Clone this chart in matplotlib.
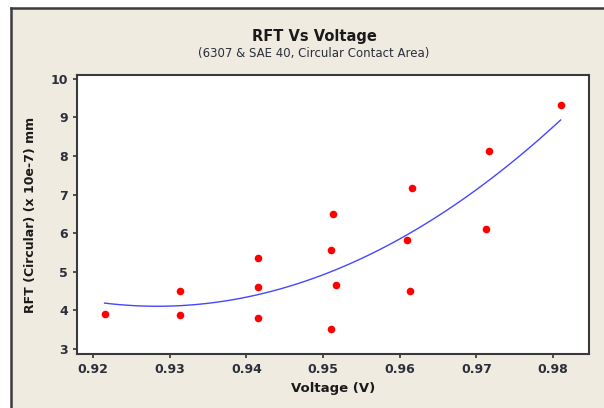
import matplotlib
matplotlib.use("Agg")
import matplotlib.pyplot as plt
import numpy as np
from matplotlib.lines import Line2D

plt.rcParams.update({
    "font.family": "DejaVu Sans",
    "font.size": 9,
})

BG = "#f0ebe1"
TXT = "#2b2f3a"

# data
voltage = [0.9215, 0.9313, 0.9313, 0.9415, 0.9415, 0.9415,
           0.9513, 0.9511, 0.9517, 0.9511,
           0.9609, 0.9613, 0.9616, 0.9716, 0.9712, 0.9810]
rft = [3.91, 4.49, 3.87, 5.35, 4.60, 3.80,
       6.49, 5.57, 4.67, 3.52,
       5.83, 4.49, 7.18, 8.13, 6.11, 9.33]
xticks = [0.92, 0.93, 0.94, 0.95, 0.96, 0.97, 0.98]
yticks = [3, 4, 5, 6, 7, 8, 9, 10]

# quadratic fitted line (fitted line plot)
coef = np.polyfit(voltage, rft, 2)
xs = np.linspace(min(voltage), max(voltage), 100)
ys = np.polyval(coef, xs)

fig = plt.figure(figsize=(6.04, 4.08), dpi=100)
fig.patch.set_facecolor(BG)
# screenshot frame on top and left
fig.add_artist(Line2D([11/604, 11/604], [0, 1-8/408], transform=fig.transFigure, color="#3c3c3c", lw=1.8))
fig.add_artist(Line2D([11/604, 1], [1-8/408, 1-8/408], transform=fig.transFigure, color="#3c3c3c", lw=1.8))
fig.patches.append(plt.Rectangle((0, 1-7/408), 1, 7/408, transform=fig.transFigure, color="white", zorder=-1))
fig.patches.append(plt.Rectangle((0, 0), 10/604, 1, transform=fig.transFigure, color="white", zorder=-1))

ax = fig.add_axes([77/604, 1-354/408, (589-77)/604, (354-75)/408])
ax.set_facecolor("white")
ax.scatter(voltage, rft, s=30, color="#ff0000", zorder=3, linewidths=0)
ax.plot(xs, ys, color="#4646ff", lw=1.0, zorder=2)

ax.set_xlim(0.9179, 0.9847)
ax.set_ylim(2.87, 10.1)
ax.set_xticks(xticks)
ax.set_xticklabels([f"{t:.2f}" for t in xticks])
ax.set_yticks(yticks)
ax.tick_params(direction="out", length=3, width=1.2, colors="#333333", labelcolor=TXT, labelsize=9)
for lab in ax.get_xticklabels() + ax.get_yticklabels():
    lab.set_fontweight("bold")
for s in ax.spines.values():
    s.set_color("#3a3a3a")
    s.set_linewidth(1.5)

ax.set_xlabel("Voltage (V)", fontweight="bold", fontsize=9.5, color="#1a1a1a", labelpad=4)
ax.set_ylabel("RFT (Circular) (x 10e-7) mm", fontweight="bold", fontsize=9, color="#1a1a1a", labelpad=10)

fig.text(314/604, 1-37/408, "RFT Vs Voltage", ha="center", va="center", fontsize=10.5, fontweight="bold", color="#1a1a1a")
fig.text(314/604, 1-53/408, "(6307 & SAE 40, Circular Contact Area)", ha="center", va="center", fontsize=8.5, color=TXT)

fig.savefig("out.png", dpi=100, facecolor=BG)
